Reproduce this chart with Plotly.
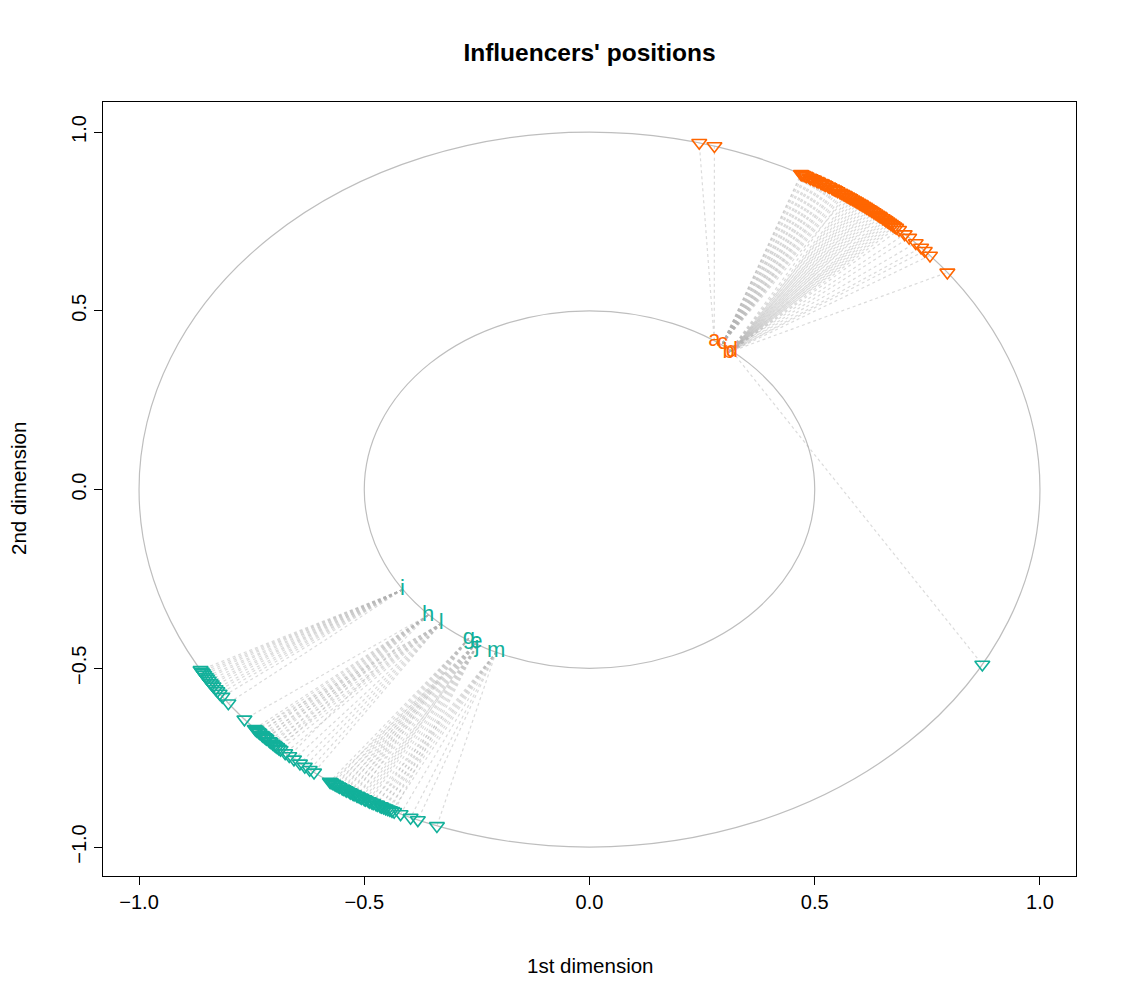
import numpy as np
import plotly.graph_objects as go

# influencers (labels on the inner circle)
inf_labels = ["a", "c", "b", "d", "e", "g", "h", "i", "j", "l", "m"]
inf_x = [0.277, 0.295, 0.309, 0.316, -0.251, -0.268, -0.358, -0.415, -0.250, -0.329, -0.207]
inf_y = [0.416, 0.408, 0.384, 0.387, -0.428, -0.416, -0.351, -0.280, -0.438, -0.374, -0.454]
inf_col = ["orange"] * 4 + ["teal"] * 7

# followers, angle on the outer circle in degrees, grouped by influencer
fol_a = [75.9, 73.9]
fol_c = [62.0, 61.7, 61.2, 60.6, 60.1, 59.5, 58.9, 58.4, 57.8, 57.1, 56.6, 55.9,
         61.9, 61.4, 60.8, 60.3, 59.7, 59.1, 58.6, 58.0, 57.4, 56.9, 56.2, 55.6, 55.1]
fol_b = [55.4, 54.8, 54.3, 53.7, 53.1, 52.6, 52.0, 51.5, 50.9, 50.3, 49.8,
         49.1, 48.6, 48.0, 47.4, 45.6, 43.6, 41.9, 37.4]
fol_d = [54.6, 54.0, 53.4, 52.9, 52.3, 51.7, 51.2, 50.6, 50.0, 49.4, 48.9, 48.3, 47.7, 47.1, 46.6, 44.8, 42.6, 40.9]
fol_d_teal = [-29.3]
fol_i = [210.3, 210.6, 210.9, 211.2, 211.6, 211.9, 212.3, 212.7, 213.0, 213.4, 213.9, 214.3, 214.8, 215.4, 216.7]
fol_h = [220.0, 222.0, 222.4, 222.9, 223.3, 223.8, 224.2, 224.7, 225.3, 225.8, 226.4, 228.2]
fol_l = [222.2, 222.7, 223.5, 224.0, 224.9, 225.6, 226.1, 226.7, 227.5, 229.0, 230.0, 230.8, 231.6, 232.3]
fol_g = [234.8, 235.3, 235.8, 236.3, 236.9, 237.4, 238.0, 238.5, 239.1]
fol_e = [235.0, 235.6, 236.1, 236.7, 237.2, 237.8, 238.3, 238.9, 239.4, 240.0, 240.6]
fol_j = [239.6, 240.2, 240.8, 241.3, 241.9, 242.5, 243.1, 243.7, 244.3]
fol_m = [241.1, 241.7, 242.3, 242.8, 243.4, 244.0, 245.2, 246.6, 247.6, 250.2]

links = [
    ("a", fol_a, "orange"), ("c", fol_c, "orange"), ("b", fol_b, "orange"),
    ("d", fol_d, "orange"), ("d", fol_d_teal, "teal"),
    ("i", fol_i, "teal"), ("h", fol_h, "teal"), ("l", fol_l, "teal"),
    ("g", fol_g, "teal"), ("e", fol_e, "teal"), ("j", fol_j, "teal"), ("m", fol_m, "teal"),
]

colors = {"orange": "#FF6600", "teal": "#12B09A"}
FONT = "Liberation Sans, Arial, sans-serif"

fig = go.Figure()

# outer and inner circles
for r in (1.0, 0.5):
    fig.add_shape(type="circle", xref="x", yref="y", x0=-r, x1=r, y0=-r, y1=r,
                  line=dict(color="#BEBEBE", width=1.2), layer="below")

# dotted links
lx, ly = [], []
for name, angs, _ in links:
    idx = inf_labels.index(name)
    for a in angs:
        t = np.deg2rad(a)
        lx += [inf_x[idx], np.cos(t), None]
        ly += [inf_y[idx], np.sin(t), None]
fig.add_trace(go.Scatter(x=lx, y=ly, mode="lines", hoverinfo="skip",
                         line=dict(color="rgba(175,175,175,0.45)", width=1.2, dash="dot")))

# follower markers
for grp in ("orange", "teal"):
    angs = np.deg2rad([a for _, al, g in links if g == grp for a in al])
    fig.add_trace(go.Scatter(x=np.cos(angs), y=np.sin(angs), mode="markers",
                             marker=dict(symbol="triangle-down-open", size=13,
                                         color=colors[grp], line=dict(width=1.6))))

# influencer labels
fig.add_trace(go.Scatter(x=inf_x, y=inf_y, mode="text", text=inf_labels,
                         textfont=dict(family=FONT, size=22, color=[colors[c] for c in inf_col])))

ticks = [-1.0, -0.5, 0.0, 0.5, 1.0]
tick_txt = ["\u22121.0", "\u22120.5", "0.0", "0.5", "1.0"]
axis = dict(range=[-1.08, 1.08], tickvals=ticks, ticktext=tick_txt, ticks="outside",
            ticklen=8, tickcolor="black", showline=True, mirror=True, linecolor="black",
            linewidth=1, showgrid=False, zeroline=False, automargin=False,
            tickfont=dict(family=FONT, size=20, color="black"))

fig.update_layout(
    width=1129, height=1004, showlegend=False,
    plot_bgcolor="white", paper_bgcolor="white",
    margin=dict(l=95, r=61, t=94, b=136),
    xaxis=axis,
    yaxis=dict(axis, range=[-1.081, 1.084], tickangle=-90),
    title=dict(text="<b>Influencers' positions</b>", x=0.5, xref="paper",
               y=1 - 44 / 1004, yref="container", yanchor="middle",
               font=dict(family=FONT, size=24.5, color="black")),
    annotations=[
        dict(text="1st dimension", xref="paper", yref="paper", x=0.5, y=-(965 - 876) / 774,
             showarrow=False, yanchor="middle", font=dict(family=FONT, size=20.5, color="black")),
        dict(text="2nd dimension", xref="paper", yref="paper", x=(18 - 103) / 973, y=0.5,
             showarrow=False, textangle=-90, xanchor="center",
             font=dict(family=FONT, size=20.5, color="black")),
    ],
)

fig.write_html("out.html")
